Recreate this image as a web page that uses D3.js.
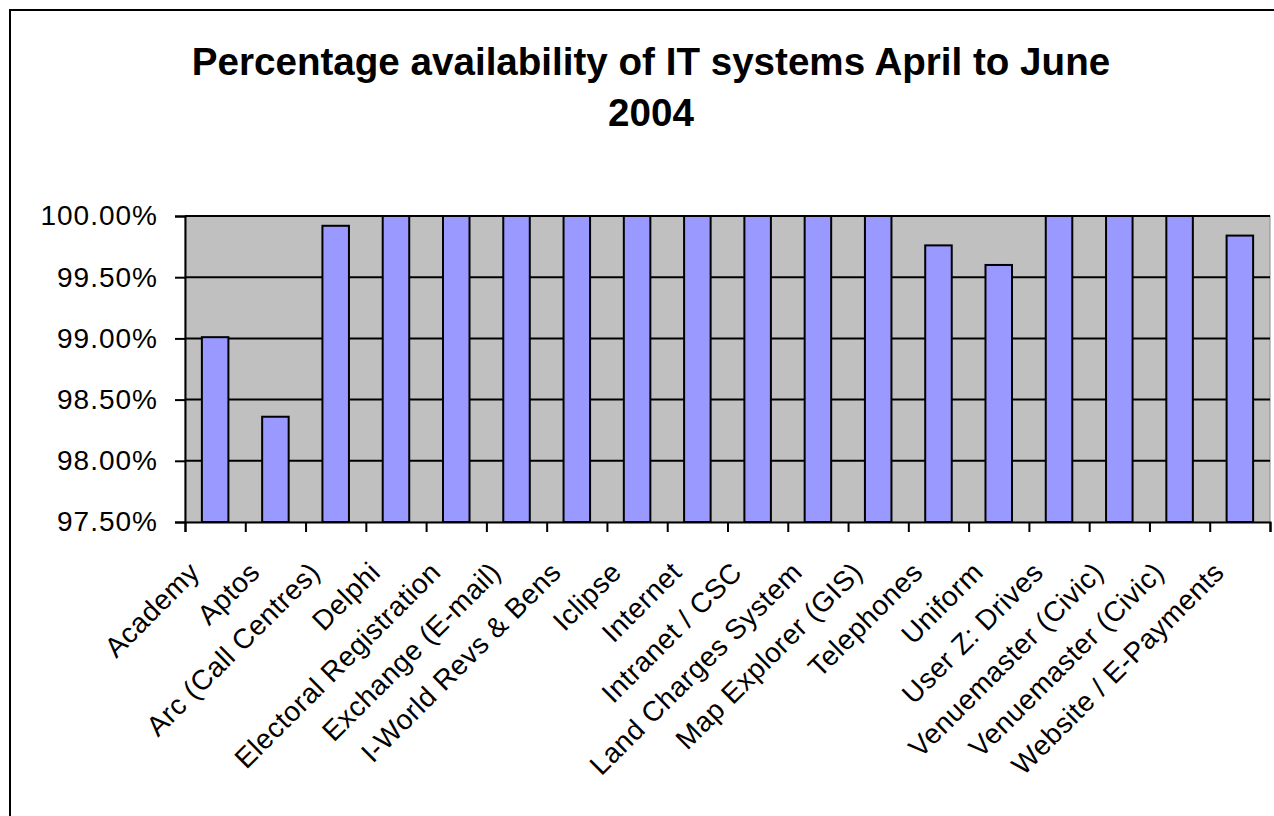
<!DOCTYPE html>
<html>
<head>
<meta charset="utf-8">
<script src="https://cdn.jsdelivr.net/npm/d3@7"></script>
<style>
  html, body { margin: 0; padding: 0; background: #fff; }
  svg { display: block; }
  text { font-family: "Liberation Sans", Arial, sans-serif; fill: #000; }
</style>
</head>
<body>
<svg id="chart" width="1274" height="816"></svg>
<script>
// Availability per IT system, April–June 2004
const systems = [
  "Academy", "Aptos", "Arc (Call Centres)", "Delphi", "Electoral Registration",
  "Exchange (E-mail)", "I-World Revs & Bens", "Iclipse", "Internet", "Intranet / CSC",
  "Land Charges System", "Map Explorer (GIS)", "Telephones", "Uniform", "User Z: Drives",
  "Venuemaster (Civic)", "Venuemaster (Civic)", "Website / E-Payments"
];
const availability = [
  99.01, 98.36, 99.92, 100, 100,
  100, 100, 100, 100, 100,
  100, 100, 99.76, 99.60, 100,
  100, 100, 99.84
];
const yTicks = [97.5, 98.0, 98.5, 99.0, 99.5, 100.0];
const titleLines = ["Percentage availability of IT systems April to June", "2004"];

const svg = d3.select("#chart");

// outer chart frame
svg.append("rect")
  .attr("x", 10).attr("y", 10)
  .attr("width", 1300).attr("height", 850)
  .attr("fill", "#fff").attr("stroke", "#000").attr("stroke-width", 2);

const plot = { left: 185, right: 1270, top: 216, bottom: 522 };

const idx = d3.range(systems.length);
const x = d3.scaleBand().domain(idx).range([plot.left, plot.right]).padding(0);
const xEdge = d3.scaleLinear().domain([0, systems.length]).range([plot.left, plot.right]);
const y = d3.scaleLinear().domain([97.5, 100]).range([plot.bottom, plot.top]);

// title
svg.append("g").selectAll("text")
  .data(titleLines)
  .join("text")
  .attr("x", 651)
  .attr("y", (d, i) => 75 + i * 51)
  .attr("text-anchor", "middle")
  .attr("font-size", 38.6)
  .attr("font-weight", "bold")
  .text(d => d);

// plot background
svg.append("rect")
  .attr("x", plot.left).attr("y", plot.top)
  .attr("width", plot.right - plot.left).attr("height", plot.bottom - plot.top)
  .attr("fill", "#c0c0c0").attr("stroke", "#8a8a8a").attr("stroke-width", 1);

// horizontal gridlines
svg.append("g").selectAll("line")
  .data(yTicks.filter(t => t > 97.5))
  .join("line")
  .attr("x1", plot.left).attr("x2", plot.right)
  .attr("y1", d => y(d)).attr("y2", d => y(d))
  .attr("stroke", "#000").attr("stroke-width", 2);

// bars
const barW = x.bandwidth() * 0.44;
svg.append("g").selectAll("rect")
  .data(availability)
  .join("rect")
  .attr("x", (d, i) => x(i) + (x.bandwidth() - barW) / 2)
  .attr("y", d => y(d))
  .attr("width", barW)
  .attr("height", d => y(97.5) - y(d))
  .attr("fill", "#9999ff")
  .attr("stroke", "#000")
  .attr("stroke-width", 2);

// y axis
const yAxis = svg.append("g")
  .attr("transform", `translate(${plot.left},0)`)
  .call(d3.axisLeft(y).tickValues(yTicks).tickSize(10).tickPadding(17)
    .tickFormat(d => d3.format(".2f")(d) + "%"));
yAxis.select(".domain").attr("stroke", "#000").attr("stroke-width", 2);
yAxis.selectAll(".tick line").attr("stroke", "#000").attr("stroke-width", 2);
yAxis.selectAll(".tick text")
  .attr("font-size", 28)
  .attr("letter-spacing", 1)
  .attr("font-family", "Liberation Sans, Arial, sans-serif")
  .attr("fill", "#000");

// x axis line and category boundary ticks
const xAxis = svg.append("g")
  .attr("transform", `translate(0,${plot.bottom})`)
  .call(d3.axisBottom(xEdge).tickValues(d3.range(systems.length + 1)).tickSize(10).tickFormat(""));
xAxis.select(".domain").attr("stroke", "#000").attr("stroke-width", 2);
xAxis.selectAll(".tick line").attr("stroke", "#000").attr("stroke-width", 2);

// rotated category labels
svg.append("g").selectAll("text")
  .data(idx)
  .join("text")
  .attr("transform", i => `translate(${x(i) + x.bandwidth() / 2 - 14},${plot.bottom + 52}) rotate(-45)`)
  .attr("text-anchor", "end")
  .attr("font-size", 28)
  .attr("letter-spacing", 0.5)
  .text(i => systems[i]);
</script>
</body>
</html>
